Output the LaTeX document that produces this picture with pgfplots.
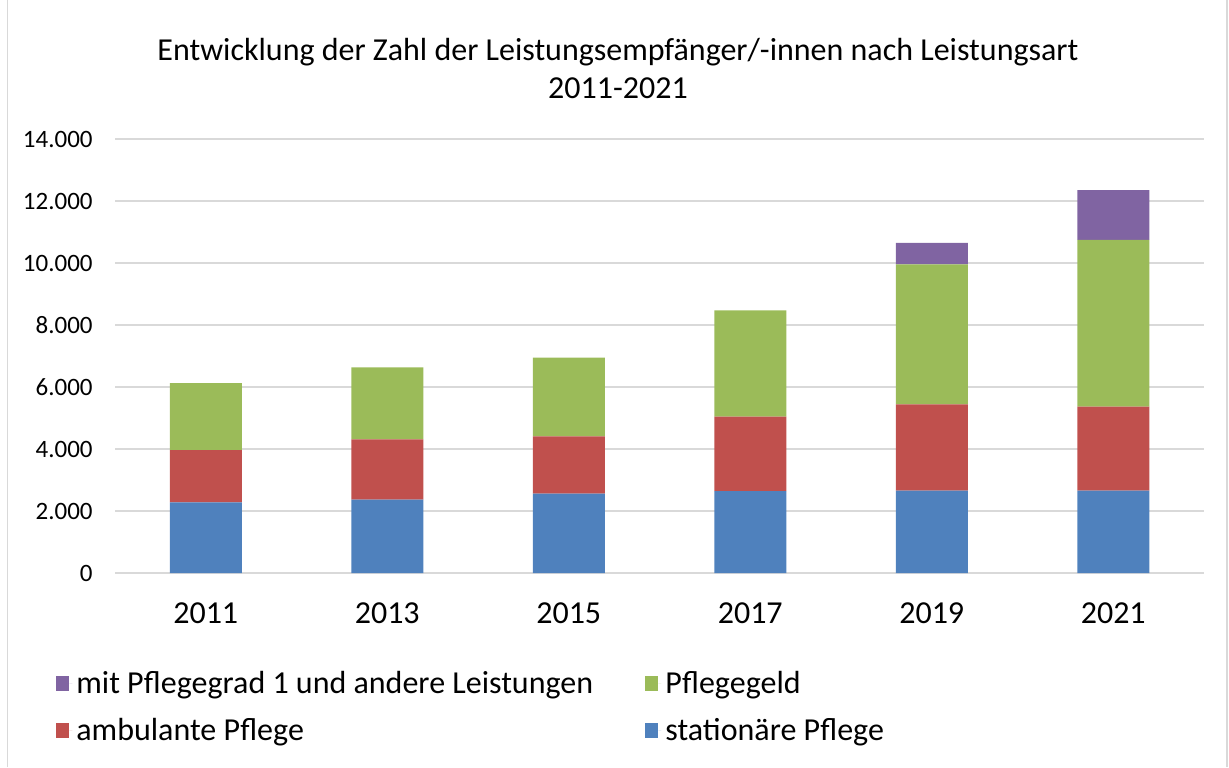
\documentclass[border=0pt]{standalone}
\usepackage{pgfplots}
\pgfplotsset{compat=1.18}
\usepackage{fontspec}
\setmainfont{Carlito}
\definecolor{cblue}{HTML}{4F81BD}
\definecolor{cred}{HTML}{C0504D}
\definecolor{cgreen}{HTML}{9BBB59}
\definecolor{cpurple}{HTML}{8064A2}
\definecolor{gridgray}{HTML}{D9D9D9}
\begin{document}
\begin{tikzpicture}
\useasboundingbox (0,0) rectangle (614.5pt,383.5pt);
\draw[gridgray, line width=0.8pt] (3.7pt,0pt) -- (3.7pt,383.5pt);
\draw[gridgray, line width=0.8pt] (613.4pt,0pt) -- (613.4pt,383.5pt);
\node[align=center, font=\fontsize{16}{19}\selectfont] at (309pt,349pt)
  {Entwicklung der Zahl der Leistungsempfänger/-innen nach Leistungsart\\2011-2021};
\begin{axis}[
  at={(57.5pt,97pt)}, anchor=south west,
  scale only axis, width=544.5pt, height=217pt,
  ybar stacked, bar width=36pt,
  xmin=-0.5, xmax=5.5, ymin=0, ymax=14000,
  xtick=data, xticklabels={2011,2013,2015,2017,2019,2021},
  ytick={0,2000,...,14000},
  scaled y ticks=false,
  /pgf/number format/.cd, 1000 sep={.}, assume math mode=true, /pgfplots/.cd,
  ymajorgrids, grid style={gridgray, line width=1pt},
  axis line style={draw=none},
  major tick length=0pt,
  xticklabel style={font=\fontsize{16}{19}\selectfont, inner sep=0pt, anchor=north, yshift=-14.5pt},
  yticklabel style={font=\fontsize{12.5}{15}\selectfont, inner sep=0pt, anchor=east, xshift=-11pt},
  legend columns=2, reverse legend,
  legend cell align=left,
  legend image code/.code={\fill[#1] (0pt,-3.75pt) rectangle (6.5pt,3.75pt); \path (6.5pt,0pt) -- (8pt,0pt);},
  legend style={draw=none, fill=none, at={(-0.0597,-0.206)}, anchor=north west,
    font=\fontsize{16}{19}\selectfont, row sep=7pt},
  every axis plot/.append style={draw=none},
]
\addplot[fill=cblue] coordinates {(0,2279) (1,2366) (2,2560) (3,2644) (4,2656) (5,2660)};
\addlegendentry{stationäre Pflege}
\addplot[fill=cred] coordinates {(0,1686) (1,1944) (2,1847) (3,2398) (4,2782) (5,2704)};
\addlegendentry{\makebox[282.5pt][l]{ambulante Pflege}}
\addplot[fill=cgreen] coordinates {(0,2160) (1,2321) (2,2537) (3,3427) (4,4514) (5,5384)};
\addlegendentry{Pflegegeld}
\addplot[fill=cpurple] coordinates {(0,0) (1,0) (2,0) (3,0) (4,699) (5,1599)};
\addlegendentry{\makebox[282.5pt][l]{mit Pflegegrad 1 und andere Leistungen}}
\end{axis}
\end{tikzpicture}
\end{document}
